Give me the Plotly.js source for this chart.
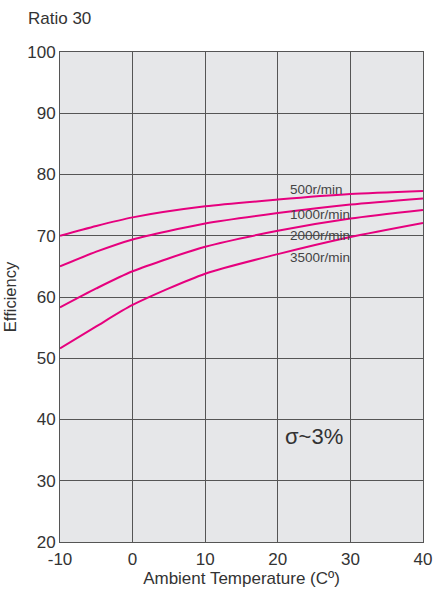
<!DOCTYPE html>
<html><head><meta charset="utf-8">
<script src="https://cdn.plot.ly/plotly-3.0.1.min.js"></script>
<style>html,body{margin:0;padding:0;background:#fff}</style>
</head><body><div id="chart" style="width:435px;height:593px"></div>
<script>
const temps = [-10, -5, 0, 10, 20, 30, 40];
const eff500 = [70.0, 71.6, 73.0, 74.8, 75.9, 76.8, 77.3];
const eff1000 = [65.0, 67.4, 69.4, 72.0, 73.7, 75.1, 76.1];
const eff2000 = [58.3, 61.4, 64.2, 68.2, 70.8, 72.8, 74.2];
const eff3500 = [51.6, 55.2, 58.7, 63.8, 67.0, 69.8, 72.1];
const seriesNames = ["500r/min", "1000r/min", "2000r/min", "3500r/min"];
const labelY = [77.6, 73.4, 70.1, 66.4];
const labelX = 21.4;
const xTickVals = [-10, 0, 10, 20, 30, 40];
const xTickText = ["-10", "0", "10", "20", "30", "40"];
const yTickVals = [20, 30, 40, 50, 60, 70, 80, 90, 100];

const FONT = "Liberation Sans, Arial, sans-serif";
const all = [eff500, eff1000, eff2000, eff3500];
const traces = all.map((ys, i) => ({
  x: temps, y: ys, type: "scatter", mode: "lines", name: seriesNames[i],
  line: {color: "#e6007e", width: 2, shape: "spline", smoothing: 0.7},
  hoverinfo: "skip"
}));

const pw = 435 - 60 - 12, ph = 593 - 52 - 51;
const annotations = seriesNames.map((n, i) => ({
  x: labelX, y: labelY[i], xref: "x", yref: "y", text: n, showarrow: false,
  xanchor: "left", yanchor: "middle",
  font: {family: FONT, size: 13.5, color: "#444"}
}));
annotations.push({
  x: 25, y: 37.3, xref: "x", yref: "y", text: "σ~3%", showarrow: false,
  xanchor: "center", yanchor: "middle",
  font: {family: FONT, size: 22, color: "#333"}
});
annotations.push({
  x: (26 - 60) / pw, y: (593 - 51 - 18) / ph, xref: "paper", yref: "paper",
  xanchor: "left", yanchor: "middle",
  text: "Ratio 30", showarrow: false,
  font: {family: FONT, size: 17, color: "#333"}
});

const layout = {
  width: 435, height: 593,
  margin: {l: 60, r: 12, t: 52, b: 51},
  paper_bgcolor: "#ffffff", plot_bgcolor: "#e6e7e9",
  showlegend: false,
  font: {family: FONT, color: "#333"},
  xaxis: {
    range: [-10, 40], tickvals: xTickVals, ticktext: xTickText,
    showgrid: true, gridcolor: "#555", gridwidth: 1,
    zeroline: false, showline: true, linecolor: "#555", linewidth: 1, mirror: true,
    ticks: "", tickfont: {size: 17, color: "#333"}, ticklabelstandoff: 2,
    title: {text: "Ambient Temperature (Cº)", font: {size: 17, color: "#333"}, standoff: 2}
  },
  yaxis: {
    range: [20, 100], tickvals: yTickVals,
    showgrid: true, gridcolor: "#555", gridwidth: 1,
    zeroline: false, showline: true, linecolor: "#555", linewidth: 1, mirror: true,
    ticks: "", tickfont: {size: 17, color: "#333"},
    title: {text: "Efficiency", font: {size: 16.5, color: "#333"}, standoff: 6}
  },
  annotations: annotations
};

Plotly.newPlot("chart", traces, layout, {displayModeBar: false, staticPlot: true});
</script></body></html>
